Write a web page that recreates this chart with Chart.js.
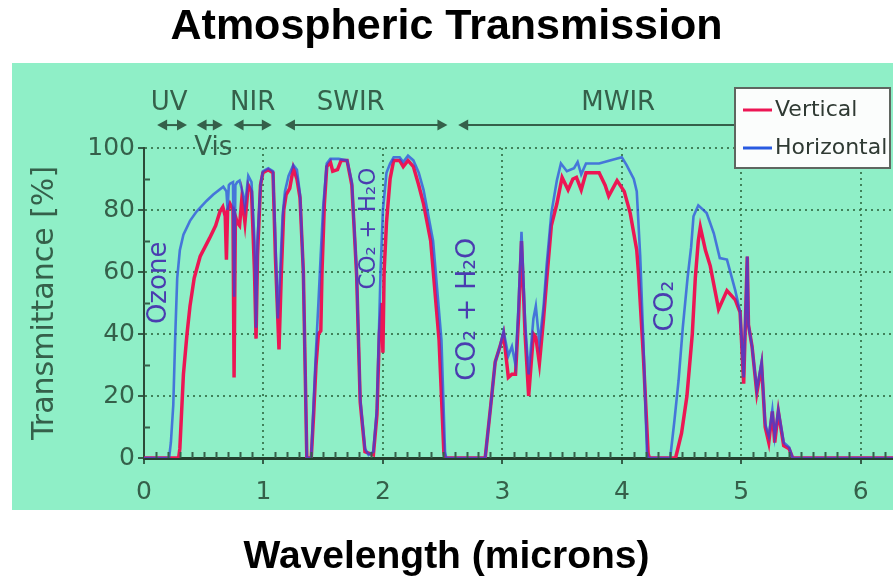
<!DOCTYPE html>
<html>
<head>
<meta charset="utf-8">
<title>Atmospheric Transmission</title>
<script src="https://cdn.jsdelivr.net/npm/chart.js@4.4.1/dist/chart.umd.min.js"></script>
<style>
  html, body { margin: 0; padding: 0; background: #ffffff; }
  #wrap { width: 893px; height: 584px; }
</style>
</head>
<body>
<div id="wrap"><canvas id="chart" width="893" height="584"></canvas></div>
<script>
// ---- Data -------------------------------------------------------------
// Horizontal path transmittance (wavelength in microns, transmittance in %)
const horizWl = [0, 0.21, 0.225, 0.245, 0.262, 0.278, 0.30, 0.33, 0.385, 0.44, 0.525, 0.58, 0.664,
  0.69, 0.70, 0.71, 0.72, 0.745, 0.755, 0.765, 0.78, 0.80, 0.83, 0.845, 0.873, 0.90, 0.925, 0.938,
  0.95, 0.975, 0.995, 1.04, 1.08, 1.10, 1.12, 1.14, 1.16, 1.18, 1.21, 1.25, 1.28, 1.306, 1.334,
  1.363, 1.40, 1.418, 1.44, 1.46, 1.48, 1.50, 1.53, 1.56, 1.63, 1.70, 1.74, 1.78, 1.81, 1.85, 1.88,
  1.92, 1.95, 1.98, 2.00, 2.03, 2.06, 2.09, 2.14, 2.17, 2.21, 2.255, 2.30, 2.34, 2.42, 2.49, 2.52,
  2.53, 2.856, 2.90, 2.94, 2.98, 3.01, 3.05, 3.08, 3.11, 3.135, 3.16, 3.19, 3.22, 3.26, 3.28, 3.31,
  3.345, 3.37, 3.41, 3.456, 3.49, 3.54, 3.60, 3.63, 3.66, 3.70, 3.81, 3.90, 4.00, 4.04, 4.10, 4.125,
  4.154, 4.18, 4.21, 4.22, 4.405, 4.44, 4.475, 4.51, 4.55, 4.58, 4.60, 4.64, 4.71, 4.77, 4.82, 4.88,
  4.95, 4.99, 5.02, 5.05, 5.06, 5.09, 5.13, 5.17, 5.20, 5.23, 5.26, 5.28, 5.31, 5.355, 5.40, 5.43, 6.3];
const horizT = [0, 0, 5, 17, 40, 58, 67, 72, 76.5, 79.5, 83, 85, 87.5,
  86, 80, 88, 88.5, 89, 52, 88, 89, 89.5, 85, 81, 91, 89, 70, 42,
  70, 88, 92.5, 93.5, 92.5, 70, 45, 60, 78, 86, 91, 94.5, 93, 85, 60,
  0, 0, 16, 35, 50, 66, 81, 95, 96.5, 96.5, 96, 89, 60, 19, 3, 1,
  2, 16, 60, 80, 92, 95, 97, 97, 95.5, 97.5, 96, 92, 86.5, 70, 38, 2,
  0, 0, 16, 31, 36, 41, 33, 36, 30, 49, 73, 44, 27, 45, 49, 37,
  49, 62, 79, 89.5, 95, 92.5, 93.5, 95.5, 91.5, 95, 95, 96, 97, 94.5, 90, 86,
  65, 38, 2, 0, 0, 12, 25, 42, 58, 68, 78, 81.5, 79, 72.5, 64.5, 64,
  54, 47, 26, 65, 43, 36, 22, 31, 11, 7, 15.5, 7, 15.5, 5, 3.5, 0, 0];

// Vertical path transmittance (wavelength in microns, transmittance in %)
const vertWl = [0, 0.29, 0.30, 0.315, 0.33, 0.36, 0.385, 0.42, 0.47, 0.55, 0.60, 0.636, 0.66,
  0.68, 0.69, 0.70, 0.72, 0.745, 0.754, 0.765, 0.78, 0.80, 0.82, 0.845, 0.873, 0.90, 0.925, 0.938,
  0.95, 0.975, 0.995, 1.04, 1.08, 1.10, 1.13, 1.15, 1.17, 1.19, 1.22, 1.25, 1.28, 1.306, 1.334,
  1.363, 1.40, 1.42, 1.44, 1.46, 1.48, 1.49, 1.51, 1.53, 1.56, 1.58, 1.62, 1.65, 1.70, 1.74, 1.78,
  1.81, 1.85, 1.92, 1.95, 1.97, 1.99, 2.00, 2.01, 2.03, 2.06, 2.09, 2.14, 2.17, 2.21, 2.255, 2.30,
  2.34, 2.40, 2.47, 2.51, 2.52, 2.856, 2.90, 2.94, 2.98, 3.01, 3.05, 3.08, 3.11, 3.135, 3.16, 3.19,
  3.22, 3.26, 3.28, 3.31, 3.345, 3.37, 3.41, 3.456, 3.50, 3.55, 3.59, 3.62, 3.66, 3.70, 3.81, 3.86,
  3.89, 3.96, 4.02, 4.07, 4.10, 4.125, 4.14, 4.18, 4.22, 4.23, 4.45, 4.50, 4.545, 4.59, 4.615, 4.64,
  4.657, 4.70, 4.74, 4.81, 4.88, 4.95, 4.99, 5.02, 5.05, 5.06, 5.09, 5.13, 5.17, 5.20, 5.23, 5.26,
  5.28, 5.31, 5.355, 5.40, 5.43, 6.3];
const vertT = [0, 0, 3, 15, 27, 40, 49, 58, 65, 71, 75, 79.5, 81,
  78, 64, 80, 82, 80, 26, 78, 76, 75, 84, 76, 88, 86, 60, 38.5,
  65, 88, 92, 93, 92, 65, 35, 60, 80, 85, 87, 93.5, 90, 84, 60,
  0, 0, 14, 30, 40, 41, 60, 82, 94, 95.5, 92.5, 93, 96, 96, 88, 59,
  18, 2, 1, 14, 40, 50, 34, 60, 76, 90, 96, 96, 94, 96, 94, 88,
  82, 70, 38, 2, 0, 0, 16, 31, 36, 40, 26, 27, 27, 45, 70, 40,
  20, 40, 39, 30.5, 45, 57, 75, 82, 90.5, 86.5, 90, 90.5, 86.5, 92, 92, 88,
  84.5, 89.5, 86, 79, 72.5, 67, 59.5, 33, 1.5, 0, 0, 8, 20, 40, 58, 70,
  74.5, 67, 62, 48, 54, 51, 47, 24, 65, 43, 36, 21, 30, 10, 5, 15,
  5, 15, 4, 3, 0, 0];

// Axis tick values
const xTickValues = [0, 1, 2, 3, 4, 5, 6];
const yTickValues = [0, 20, 40, 60, 80, 100];

// Spectral bands (microns)
const bandNames = ['UV', 'Vis', 'NIR', 'SWIR', 'MWIR'];
const bandStart = [0.11, 0.44, 0.75, 1.18, 2.63];
const bandEnd = [0.36, 0.66, 1.07, 2.54, 6.3];

// Absorber names
const absorberNames = ['Ozone', 'CO\u2082 + H\u2082O', 'CO\u2082 + H\u2082O', 'CO\u2082'];

// ---- Styling & layout -------------------------------------------------
const inkGreen = '#35604a';
const gridGreen = 'rgba(52, 110, 70, 0.85)';
const panelGreen = '#8fefc7';
const absorberColor = '#4a3cb0';
const uiFont = 'DejaVu Sans, Verdana, sans-serif';

// band label placement (x in microns, y in % units above the plot)
const bandLabelX = [0.21, 0.58, 0.91, 1.73, 3.97];
const bandLabelY = [114.5, 100, 114.5, 114.5, 114.5];
const bandArrowY = 107.4;
// absorber label placement and size
const absorberX = [0.126, 1.88, 2.71, 4.37];
const absorberY = [56.5, 74, 48, 49];
const absorberSize = [26, 23, 27, 27];

const panelPlugin = {
  id: 'panel',
  beforeDraw(chart) {
    const ctx = chart.ctx;
    ctx.save();
    ctx.fillStyle = panelGreen;
    ctx.fillRect(12, 63, chart.width - 12, 447);
    ctx.restore();
  }
};

const decorPlugin = {
  id: 'decor',
  afterDraw(chart) {
    const ctx = chart.ctx;
    const xs = chart.scales.x, ys = chart.scales.y;
    const area = chart.chartArea;
    ctx.save();

    // minor ticks
    ctx.strokeStyle = inkGreen;
    ctx.lineWidth = 2;
    ctx.beginPath();
    for (let i = 1; i <= 62; i++) {
      if (i % 10 === 0) continue;
      const px = Math.round(xs.getPixelForValue(i / 10)) + 0.5;
      ctx.moveTo(px, area.bottom);
      ctx.lineTo(px, area.bottom - 6);
    }
    for (let v = 10; v < 100; v += 20) {
      const py = Math.round(ys.getPixelForValue(v)) + 0.5;
      ctx.moveTo(area.left, py);
      ctx.lineTo(area.left + 6, py);
    }
    ctx.stroke();

    // band arrows
    const ay = ys.getPixelForValue(bandArrowY);
    ctx.fillStyle = inkGreen;
    ctx.lineWidth = 2;
    bandNames.forEach((name, i) => {
      const x1 = xs.getPixelForValue(bandStart[i]);
      const x2 = Math.min(xs.getPixelForValue(bandEnd[i]), chart.width - 2);
      ctx.beginPath();
      ctx.moveTo(x1 + 4, ay);
      ctx.lineTo(x2 - 4, ay);
      ctx.stroke();
      ctx.beginPath();
      ctx.moveTo(x1, ay); ctx.lineTo(x1 + 10, ay - 5.5); ctx.lineTo(x1 + 10, ay + 5.5); ctx.closePath();
      ctx.fill();
      if (bandEnd[i] <= xs.max) {
        ctx.beginPath();
        ctx.moveTo(x2, ay); ctx.lineTo(x2 - 10, ay - 5.5); ctx.lineTo(x2 - 10, ay + 5.5); ctx.closePath();
        ctx.fill();
      }
    });

    // band labels
    ctx.font = '26px ' + uiFont;
    ctx.textAlign = 'center';
    ctx.textBaseline = 'middle';
    ctx.fillStyle = inkGreen;
    bandNames.forEach((name, i) => {
      ctx.fillText(name, xs.getPixelForValue(bandLabelX[i]), ys.getPixelForValue(bandLabelY[i]));
    });

    // absorber labels (rotated)
    ctx.fillStyle = absorberColor;
    absorberNames.forEach((name, i) => {
      ctx.save();
      ctx.translate(xs.getPixelForValue(absorberX[i]), ys.getPixelForValue(absorberY[i]));
      ctx.rotate(-Math.PI / 2);
      ctx.font = absorberSize[i] + 'px ' + uiFont;
      ctx.fillText(name, 0, 0);
      ctx.restore();
    });

    // legend box
    const bx = 735, by = 88, bw = 155, bh = 80;
    ctx.fillStyle = '#fbfdfc';
    ctx.fillRect(bx, by, bw, bh);
    ctx.strokeStyle = '#5f6660';
    ctx.lineWidth = 2;
    ctx.strokeRect(bx, by, bw, bh);
    ctx.font = '22px ' + uiFont;
    ctx.textAlign = 'left';
    ctx.textBaseline = 'middle';
    chart.data.datasets.forEach((ds, i) => {
      const ly = by + 22 + i * 38;
      ctx.strokeStyle = ds.legendColor;
      ctx.lineWidth = 3;
      ctx.beginPath();
      ctx.moveTo(bx + 8, ly);
      ctx.lineTo(bx + 37, ly);
      ctx.stroke();
      ctx.fillStyle = '#2f3a33';
      ctx.fillText(ds.label, bx + 40, ly);
    });

    ctx.restore();
  }
};

const gridColorFor = c => (c.tick && c.tick.value === 0) ? 'rgba(0,0,0,0)' : gridGreen;

new Chart(document.getElementById('chart'), {
  type: 'line',
  data: {
    datasets: [
      {
        label: 'Vertical',
        data: vertWl.map((w, i) => ({ x: w, y: vertT[i] })),
        borderColor: 'rgb(236, 22, 84)',
        legendColor: 'rgb(236, 22, 84)',
        borderWidth: 3.5,
        pointRadius: 0,
        tension: 0,
        order: 2
      },
      {
        label: 'Horizontal',
        data: horizWl.map((w, i) => ({ x: w, y: horizT[i] })),
        borderColor: 'rgba(40, 70, 225, 0.72)',
        legendColor: 'rgb(40, 90, 225)',
        borderWidth: 2.6,
        pointRadius: 0,
        tension: 0,
        order: 1
      }
    ]
  },
  options: {
    responsive: false,
    animation: false,
    layout: { padding: 0 },
    plugins: {
      legend: { display: false },
      tooltip: { enabled: false },
      title: {
        display: true,
        text: 'Atmospheric Transmission',
        color: '#000',
        font: { family: 'Liberation Sans, Arial, sans-serif', size: 43, weight: 'bold', lineHeight: 1.2 },
        padding: { top: 1.5, bottom: 94.9 }
      },
      subtitle: {
        display: true,
        position: 'bottom',
        text: 'Wavelength (microns)',
        color: '#000',
        font: { family: 'Liberation Sans, Arial, sans-serif', size: 39, weight: 'bold', lineHeight: 1.2 },
        padding: { top: 4, bottom: 3.6 }
      }
    },
    scales: {
      x: {
        type: 'linear',
        min: 0,
        max: 6.27,
        afterBuildTicks: s => { s.ticks = xTickValues.map(v => ({ value: v })); },
        afterFit: s => { s.height = 71.6; },
        ticks: { color: inkGreen, font: { family: uiFont, size: 25 }, padding: 13, maxRotation: 0, autoSkip: false },
        grid: { color: gridColorFor, lineWidth: 2, tickLength: 6, tickColor: inkGreen, tickWidth: 2 },
        border: { display: true, color: '#24402f', width: 3, dash: [2, 4] }
      },
      y: {
        type: 'linear',
        min: 0,
        max: 100,
        afterBuildTicks: s => { s.ticks = yTickValues.map(v => ({ value: v })); },
        afterFit: s => { s.width = 144; },
        ticks: { color: inkGreen, font: { family: uiFont, size: 25 }, padding: 3 },
        grid: { color: gridColorFor, lineWidth: 2, tickLength: 6, tickColor: inkGreen, tickWidth: 2 },
        border: { display: true, color: '#2c4a38', width: 2, dash: [2, 4] },
        title: {
          display: true,
          text: 'Transmittance [%]',
          color: inkGreen,
          font: { family: uiFont, size: 30 },
          padding: { top: 27, bottom: 0 }
        }
      }
    }
  },
  plugins: [panelPlugin, decorPlugin]
});
</script>
</body>
</html>
